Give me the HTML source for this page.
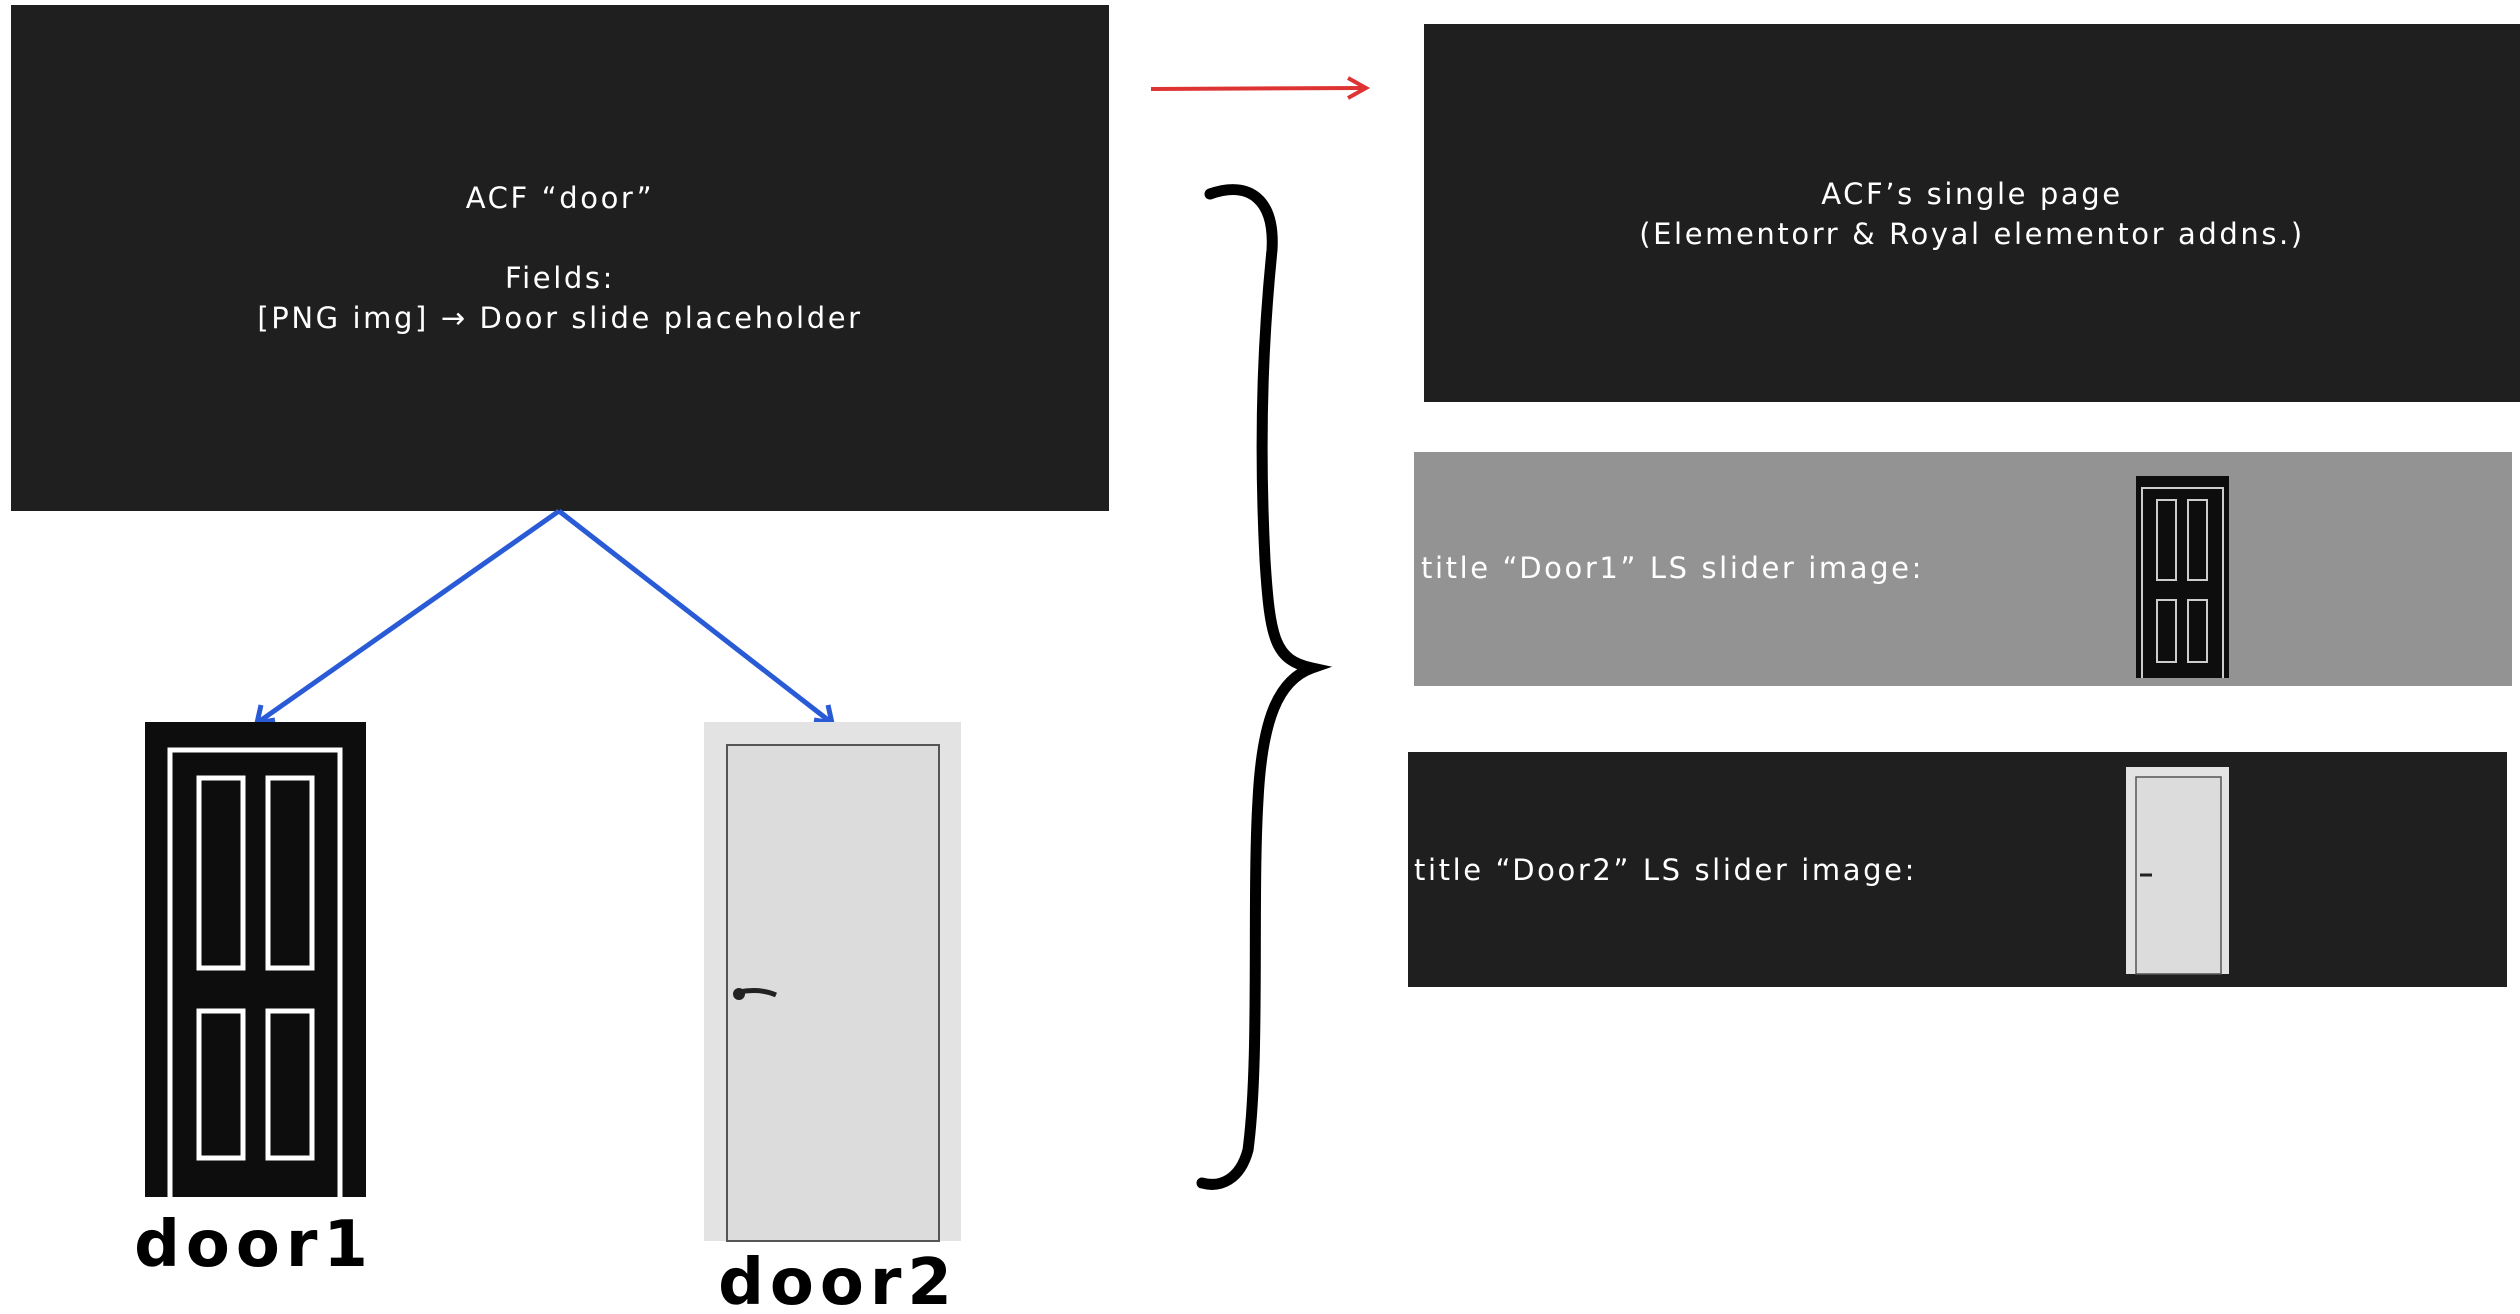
<!DOCTYPE html>
<html><head><meta charset="utf-8"><style>
body{margin:0;width:2520px;height:1314px;background:#fff;position:relative;overflow:hidden;font-family:"DejaVu Sans","Liberation Sans",sans-serif}
.b{position:absolute;background:#1f1f1f;color:#fff}
.t{position:absolute;color:#fff;font-size:29px;white-space:nowrap;letter-spacing:2.6px}
.c{text-align:center;left:0;right:0}
</style></head><body>
<div class="b" style="left:11px;top:5px;width:1098px;height:506px"></div>
<div class="t c" style="left:11px;width:1098px;top:178px;line-height:40px">ACF “door”<br><br>Fields:<br>[PNG img] → Door slide placeholder</div>
<div class="b" style="left:1424px;top:24px;width:1096px;height:378px"></div>
<div class="t c" style="left:1424px;width:1096px;top:174px;line-height:40px">ACF’s single page<br>(Elementorr &amp; Royal elementor addns.)</div>
<div class="b" style="left:1414px;top:452px;width:1098px;height:234px;background:#939393"></div>
<div class="t" style="left:1421px;top:551px">title “Door1” LS slider image:</div>
<div class="b" style="left:1408px;top:752px;width:1099px;height:235px"></div>
<div class="t" style="left:1414px;top:853px">title “Door2” LS slider image:</div>
<svg width="2520" height="1314" style="position:absolute;left:0;top:0">
<line x1="1151" y1="89" x2="1362" y2="88" stroke="#d33" stroke-width="4"/>
<path d="M1348 78 L1366 88 L1348 98" fill="none" stroke="#d33" stroke-width="4"/>
<path d="M559 511 L257 723 M559 511 L832 723" stroke="#2a5bd7" stroke-width="5" fill="none"/>
<path d="M257 723 l4 -18 M257 723 l18 -3 M832 723 l-18 -3 M832 723 l-4 -18" stroke="#2a5bd7" stroke-width="5"/>
<path d="M1210 194 C1250 180 1275 200 1272 250 C1265 320 1258 420 1265 560 C1270 640 1275 660 1312 668 C1278 680 1262 720 1258 800 C1252 900 1260 1060 1248 1150 C1240 1180 1220 1188 1202 1183" fill="none" stroke="#000" stroke-width="11" stroke-linecap="round"/>
<rect x="145" y="722" width="221" height="475" fill="#0d0d0d"/>
<path d="M170 1197 V750 H340 V1197" fill="none" stroke="#fff" stroke-width="5"/>
<rect x="199" y="778" width="44" height="190" fill="none" stroke="#fff" stroke-width="5"/>
<rect x="268" y="778" width="44" height="190" fill="none" stroke="#fff" stroke-width="5"/>
<rect x="199" y="1011" width="44" height="147" fill="none" stroke="#fff" stroke-width="5"/>
<rect x="268" y="1011" width="44" height="147" fill="none" stroke="#fff" stroke-width="5"/>
<rect x="704" y="722" width="257" height="519" fill="#e3e3e3"/>
<rect x="727" y="745" width="212" height="496" fill="#dcdcdc" stroke="#555" stroke-width="2"/>
<circle cx="739" cy="994" r="6" fill="#222"/><path d="M739 992 Q760 988 776 995" stroke="#222" stroke-width="5" fill="none"/>
<rect x="2136" y="476" width="93" height="202" fill="#0d0d0d"/>
<path d="M2142 678 V488 H2223 V678" fill="none" stroke="#ccc" stroke-width="2"/>
<rect x="2157" y="500" width="19" height="80" fill="none" stroke="#ccc" stroke-width="2"/>
<rect x="2188" y="500" width="19" height="80" fill="none" stroke="#ccc" stroke-width="2"/>
<rect x="2157" y="600" width="19" height="62" fill="none" stroke="#ccc" stroke-width="2"/>
<rect x="2188" y="600" width="19" height="62" fill="none" stroke="#ccc" stroke-width="2"/>
<rect x="2126" y="767" width="103" height="207" fill="#e3e3e3"/>
<rect x="2136" y="777" width="85" height="197" fill="#dcdcdc" stroke="#555" stroke-width="1.5"/>
<path d="M2140 875 H2152" stroke="#222" stroke-width="3"/>
<text x="254" y="1266" text-anchor="middle" font-family="DejaVu Sans, sans-serif" font-weight="bold" font-size="64" letter-spacing="6" fill="#000">door1</text>
<text x="838" y="1304" text-anchor="middle" font-family="DejaVu Sans, sans-serif" font-weight="bold" font-size="64" letter-spacing="6" fill="#000">door2</text>
</svg>
</body></html>
